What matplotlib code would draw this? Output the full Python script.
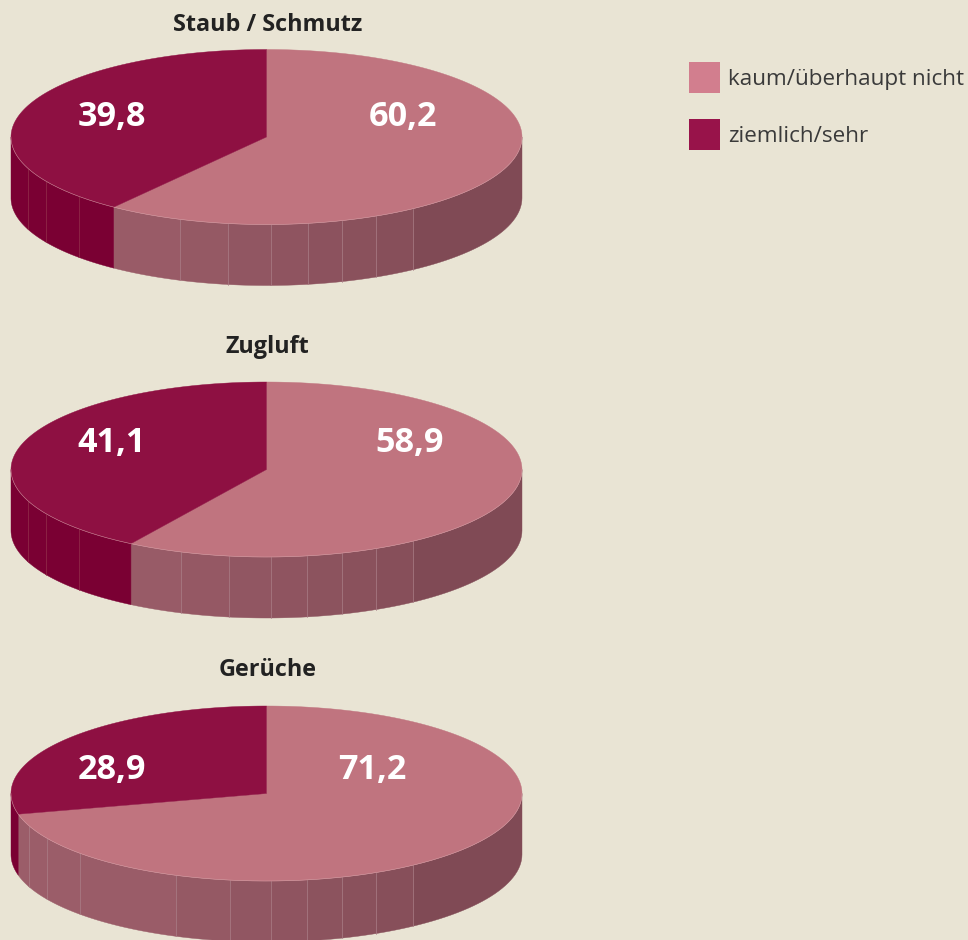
import numpy as np
import matplotlib
matplotlib.use('Agg')
import matplotlib.pyplot as plt
from matplotlib.patches import Polygon, Rectangle

titles = ['Staub / Schmutz', 'Zugluft', 'Gerüche']
light_values = [60.2, 58.9, 71.2]
dark_values = [39.8, 41.1, 28.9]
legend_labels = ['kaum/überhaupt nicht', 'ziemlich/sehr']

# layout, in pixels of the 968x940 picture
centers_y = [137, 469.5, 793.5]
title_y = [25, 347, 670]
label_y = [117, 443, 770]
light_label_x = [403, 410, 372]
rib_x = [
    [28, 46, 79, 180, 228, 271, 308, 342, 376, 413],
    [28, 46, 79, 181, 229, 271, 307, 342, 376, 413],
    [29, 47, 80, 176, 230, 271, 307, 342, 376, 413],
]
cx = 266.5
rx = 255.5
ry = 87.5
depth = 61

bg = '#e9e4d4'
top_light = '#c0747f'
top_dark = '#8e1042'
side_dark = '#7a0033'
side_left = np.array([0x9b, 0x5d, 0x69]) / 255
side_right = np.array([0x80, 0x4a, 0x55]) / 255

plt.rcParams['font.family'] = ['Open Sans', 'DejaVu Sans']

fig = plt.figure(figsize=(9.68, 9.40), dpi=100, facecolor=bg)
ax = fig.add_axes([0, 0, 1, 1])
ax.set_xlim(0, 968)
ax.set_ylim(940, 0)
ax.axis('off')


def rim(cy, a, b, n=80):
    # angles clockwise from the top of the ellipse, in degrees
    t = np.radians(np.linspace(a, b, n))
    return np.column_stack([cx + rx * np.sin(t), cy - ry * np.cos(t)])


def x_to_angle(x):
    return 180 - np.degrees(np.arcsin((x - cx) / rx))


def side_face(cy, a, b, color):
    top = rim(cy, a, b, 30)
    low = top[::-1] + [0, depth]
    ax.add_patch(Polygon(np.vstack([top, low]), closed=True, fc=color, ec=color, lw=0.3, zorder=2))


for i in range(3):
    cy = centers_y[i]
    split = light_values[i] * 3.6

    edges = [90] + sorted(x_to_angle(x) for x in rib_x[i]) + [270]
    if split > 90 and split < 270:
        edges = sorted(set(edges + [split]))
    for a, b in zip(edges[:-1], edges[1:]):
        mid = (a + b) / 2
        if mid > split:
            color = side_dark
        else:
            f = min(max((np.sin(np.radians(mid)) + 0.6) / 1.5, 0), 1)
            color = side_left * (1 - f) + side_right * f
        side_face(cy, a, b, color)

    for a in edges[1:-1]:
        if abs(a - split) < 0.01:
            continue
        p = rim(cy, a, a, 1)[0]
        col = '#93304a' if a > split else '#ab7f88'
        ax.plot([p[0], p[0]], [p[1], p[1] + depth], color=col, lw=0.5, zorder=3)

    light_pts = np.vstack([[cx, cy], rim(cy, 0, split, 200)])
    dark_pts = np.vstack([[cx, cy], rim(cy, split, 360, 200)])
    ax.add_patch(Polygon(light_pts, closed=True, fc=top_light, ec=top_light, lw=0.3, zorder=4))
    ax.add_patch(Polygon(dark_pts, closed=True, fc=top_dark, ec=top_dark, lw=0.3, zorder=4))

    front = rim(cy, 90, 270, 200)
    ax.plot(front[:, 0], front[:, 1], color='#d9a3ab', lw=0.4, alpha=0.8, zorder=5)

    ax.text(cx + 1, title_y[i], titles[i], ha='center', va='center', fontsize=16.8,
            fontweight='bold', color='#222222', zorder=6)
    ax.text(light_label_x[i], label_y[i], f'{light_values[i]:.1f}'.replace('.', ','), ha='center',
            va='center', fontsize=24.6, fontweight='bold', color='white', zorder=6)
    ax.text(112, label_y[i], f'{dark_values[i]:.1f}'.replace('.', ','), ha='center',
            va='center', fontsize=24.6, fontweight='bold', color='white', zorder=6)

# legend
swatch_colors = ['#d27e8e', '#98134a']
swatch_y = [62, 119]
for lab, col, y in zip(legend_labels, swatch_colors, swatch_y):
    ax.add_patch(Rectangle((689, y), 31, 31, fc=col, ec='none', zorder=6))
    ax.text(728, y + 18, lab, ha='left', va='center', fontsize=16.2, color='#3a3a3a', zorder=6)

fig.savefig('out.png', dpi=100, facecolor=bg)
